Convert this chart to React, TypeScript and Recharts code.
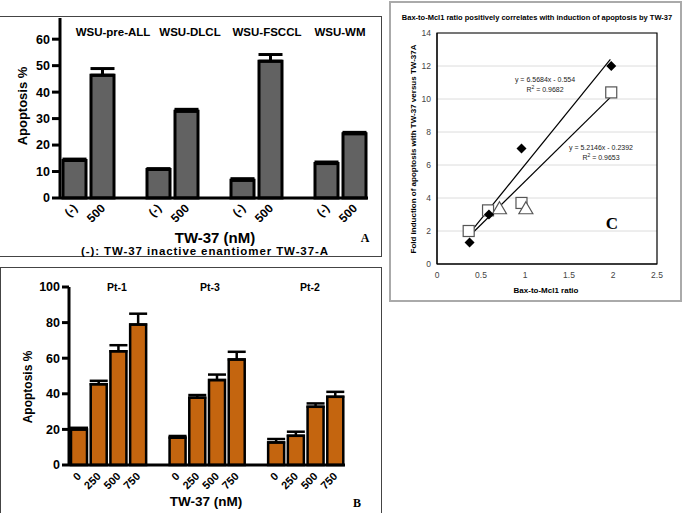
import React from 'react'
import {
  BarChart,
  Bar,
  XAxis,
  YAxis,
  ErrorBar,
  ScatterChart,
  Scatter,
  CartesianGrid,
  ReferenceArea,
} from 'recharts'

const SANS = '"Liberation Sans", Arial, sans-serif'
const SERIF = '"Liberation Serif", "Times New Roman", serif'

// panel A: cell lines, (-) = inactive enantiomer vs 500 nM TW-37
const cellLinesA = ['WSU-pre-ALL', 'WSU-DLCL', 'WSU-FSCCL', 'WSU-WM']
const dosesA = ['(-)', '500']
const apoptosisA = [14.2, 46.4, 10.8, 32.8, 6.7, 51.7, 13.0, 24.3]
const semA = [0.5, 2.5, 0.3, 0.7, 0.6, 2.5, 0.6, 0.5]
const ticksA = [0, 10, 20, 30, 40, 50, 60]

// panel B: patient samples
const patientsB = ['Pt-1', 'Pt-3', 'Pt-2']
const dosesB = ['0', '250', '500', '750']
const apoptosisB = [20.0, 45.4, 63.9, 78.9, 15.3, 37.8, 47.7, 59.3, 12.7, 16.4, 32.7, 38.3]
const semB = [0.9, 1.9, 3.4, 6.1, 1.0, 1.5, 3.1, 4.3, 1.9, 2.3, 1.9, 2.8]
const ticksB = [0, 20, 40, 60, 80, 100]

// panel C: Bax-to-Mcl1 ratio vs fold induction
const ratioDiamond = [0.37, 0.59, 0.96, 1.98]
const foldDiamond = [1.3, 3.0, 7.0, 12.0]
const ratioSquare = [0.36, 0.58, 0.96, 1.98]
const foldSquare = [2.0, 3.25, 3.7, 10.4]
const ratioTriangle = [0.71, 1.01]
const foldTriangle = [3.35, 3.35]
const trend1X = [0.36, 1.97]
const trend1Y = [1.8, 12.4]
const trend2X = [0.36, 1.97]
const trend2Y = [1.65, 10.1]
const ticksCX = [0, 0.5, 1, 1.5, 2, 2.5]
const ticksCY = [0, 2, 4, 6, 8, 10, 12, 14]

type Row = { key: string; label: string; v: number | null; e: number[] | null }

// groups of bars with one empty slot between groups
function grouped(groups: string[], doses: string[], vals: number[], errs: number[]) {
  const rows: Row[] = []
  groups.forEach((g, gi) => {
    if (gi > 0) rows.push({ key: `gap${gi}`, label: '', v: null, e: null })
    doses.forEach((d, di) => {
      const i = gi * doses.length + di
      rows.push({ key: `${g}-${d}`, label: d, v: vals[i], e: [0, errs[i]] })
    })
  })
  return rows
}

const pts = (xs: number[], ys: number[]) => xs.map((x, i) => ({ x, y: ys[i] }))

const rowsA = grouped(cellLinesA, dosesA, apoptosisA, semA)
const rowsB = grouped(patientsB, dosesB, apoptosisB, semB)

function Txt({ x, y, size, bold = true, family = SANS, rotate = 0, ls = 0, color = '#000', children }: any) {
  return (
    <div
      style={{
        position: 'absolute',
        left: x,
        top: y,
        transform: `translate(-50%, -50%) rotate(${rotate}deg)`,
        fontSize: size,
        fontWeight: bold ? 700 : 400,
        fontFamily: family,
        whiteSpace: 'nowrap',
        lineHeight: 1,
        letterSpacing: ls,
        color,
      }}
    >
      {children}
    </div>
  )
}

function rotTick(rows: Row[], size: number, dx: number, dy: number) {
  return (props: any) => {
    const row = rows[props.index]
    if (!row || !row.label) return <g />
    const x = props.x + dx
    const y = props.y + dy
    return (
      <text
        x={x}
        y={y}
        transform={`rotate(-45 ${x} ${y})`}
        textAnchor="end"
        fontSize={size}
        fontWeight={700}
        fontFamily={SANS}
        fill="#000"
      >
        {row.label}
      </text>
    )
  }
}

const diamond = (p: any) => (
  <polygon
    points={`${p.cx},${p.cy - 5} ${p.cx + 5},${p.cy} ${p.cx},${p.cy + 5} ${p.cx - 5},${p.cy}`}
    fill="#000"
  />
)
const square = (p: any) => (
  <rect x={p.cx - 5.5} y={p.cy - 5.5} width={11} height={11} fill="#fff" stroke="#555" strokeWidth={1.2} />
)
const triangle = (p: any) => (
  <polygon
    points={`${p.cx},${p.cy - 7} ${p.cx + 7},${p.cy + 5} ${p.cx - 7},${p.cy + 5}`}
    fill="#fff"
    stroke="#555"
    strokeWidth={1.2}
  />
)
const noDot = () => <g />

export default function App() {
  const thick = { stroke: '#000', strokeWidth: 3 }
  return (
    <div
      style={{
        position: 'absolute',
        left: 0,
        top: 0,
        width: 685,
        height: 513,
        background: '#fff',
        overflow: 'hidden',
        fontFamily: SANS,
      }}
    >
      {/* panel frames */}
      <div style={{ position: 'absolute', left: -2, top: 16, width: 384, height: 241, border: '1px solid #444', boxSizing: 'border-box' }} />
      <div style={{ position: 'absolute', left: 0, top: 267, width: 382, height: 260, border: '1px solid #444', boxSizing: 'border-box' }} />
      <div style={{ position: 'absolute', left: 389, top: 1, width: 293, height: 301, border: '2px solid #aaa', boxSizing: 'border-box' }} />

      {/* panel A */}
      <div style={{ position: 'absolute', left: 0, top: 0 }}>
        <BarChart width={385} height={260} data={rowsA} margin={{ top: 18, right: 17, left: 0, bottom: 0 }}>
          <XAxis
            dataKey="key"
            height={62}
            interval={0}
            axisLine={thick}
            tickLine={false}
            tick={rotTick(rowsA, 12, 4, 3)}
          />
          <YAxis
            type="number"
            domain={[0, 68]}
            ticks={ticksA}
            width={60}
            axisLine={thick}
            tickLine={thick}
            tickSize={8}
            tickMargin={2}
            tick={{ fill: '#000', fontSize: 12.5, fontWeight: 700, fontFamily: SANS }}
          />
          <Bar dataKey="v" fill="#626262" stroke="#000" strokeWidth={3} barSize={23} isAnimationActive={false}>
            <ErrorBar dataKey="e" width={12} strokeWidth={3} stroke="#000" direction="y" />
          </Bar>
        </BarChart>
      </div>
      <Txt x={113} y={33} size={11.5}>{cellLinesA[0]}</Txt>
      <Txt x={190} y={33} size={11.5}>{cellLinesA[1]}</Txt>
      <Txt x={267} y={33} size={11.5}>{cellLinesA[2]}</Txt>
      <Txt x={340} y={33} size={11.5}>{cellLinesA[3]}</Txt>
      <Txt x={22} y={106} size={13} rotate={-90}>Apoptosis %</Txt>
      <Txt x={215} y={237} size={15}>TW-37 (nM)</Txt>
      <Txt x={205} y={252} size={11.5} ls={0.9}>(-): TW-37 inactive enantiomer TW-37-A</Txt>
      <Txt x={365} y={238} size={12} family={SERIF}>A</Txt>

      {/* panel B */}
      <div style={{ position: 'absolute', left: 0, top: 268 }}>
        <BarChart width={382} height={245} data={rowsB} margin={{ top: 19, right: 37, left: 0, bottom: 0 }}>
          <XAxis
            dataKey="key"
            height={48}
            interval={0}
            axisLine={thick}
            tickLine={false}
            tick={rotTick(rowsB, 11, 3, 4)}
          />
          <YAxis
            type="number"
            domain={[0, 100]}
            ticks={ticksB}
            width={69}
            axisLine={thick}
            tickLine={thick}
            tickSize={7}
            tickMargin={2}
            tick={{ fill: '#000', fontSize: 12.5, fontWeight: 700, fontFamily: SANS }}
          />
          <Bar dataKey="v" fill="#c4650f" stroke="#000" strokeWidth={2.5} barSize={16} isAnimationActive={false}>
            <ErrorBar dataKey="e" width={9} strokeWidth={2.5} stroke="#000" direction="y" />
          </Bar>
        </BarChart>
      </div>
      <Txt x={117} y={287} size={10.5}>{patientsB[0]}</Txt>
      <Txt x={210} y={287} size={10.5}>{patientsB[1]}</Txt>
      <Txt x={310} y={287} size={10.5}>{patientsB[2]}</Txt>
      <Txt x={28} y={387} size={12} rotate={-90}>Apoptosis %</Txt>
      <Txt x={206} y={502} size={13.5}>TW-37 (nM)</Txt>
      <Txt x={357} y={503} size={12} family={SERIF}>B</Txt>

      {/* panel C */}
      <div style={{ position: 'absolute', left: 389, top: 1 }}>
        <ScatterChart width={292} height={300} margin={{ top: 32, right: 24, left: 0, bottom: 0 }}>
          <CartesianGrid horizontal vertical={false} stroke="#dcdcdc" />
          <XAxis
            type="number"
            dataKey="x"
            domain={[0, 2.5]}
            ticks={ticksCX}
            height={37}
            axisLine={{ stroke: '#000' }}
            tickLine={false}
            tickSize={0}
            tickMargin={8}
            tick={{ fill: '#444', fontSize: 8.5, fontFamily: SANS }}
          />
          <YAxis
            type="number"
            dataKey="y"
            domain={[0, 14]}
            ticks={ticksCY}
            width={48}
            axisLine={{ stroke: '#000' }}
            tickLine={false}
            tickSize={0}
            tickMargin={6}
            tick={{ fill: '#444', fontSize: 8.5, fontFamily: SANS }}
          />
          <ReferenceArea x1={0} x2={2.5} y1={0} y2={14} fill="none" stroke="#000" strokeWidth={1.2} ifOverflow="visible" />
          <Scatter data={pts(trend1X, trend1Y)} line={{ stroke: '#000', strokeWidth: 1.2 }} shape={noDot} isAnimationActive={false} />
          <Scatter data={pts(trend2X, trend2Y)} line={{ stroke: '#000', strokeWidth: 1.2 }} shape={noDot} isAnimationActive={false} />
          <Scatter data={pts(ratioSquare, foldSquare)} shape={square} isAnimationActive={false} />
          <Scatter data={pts(ratioTriangle, foldTriangle)} shape={triangle} isAnimationActive={false} />
          <Scatter data={pts(ratioDiamond, foldDiamond)} shape={diamond} isAnimationActive={false} />
        </ScatterChart>
      </div>
      <Txt x={537} y={18} size={7.5}>Bax-to-Mcl1 ratio positively correlates with induction of apoptosis by TW-37</Txt>
      <Txt x={414} y={149} size={8} rotate={-90}>Fold induction of apoptosis with TW-37 versus TW-37A</Txt>
      <Txt x={546} y={291} size={8}>Bax-to-Mcl1 ratio</Txt>
      <Txt x={545} y={79} size={7} bold={false} color="#222">y = 6.5684x - 0.554</Txt>
      <Txt x={545} y={89} size={7} bold={false} color="#222">
        R<sup style={{ fontSize: 5 }}>2</sup> = 0.9682
      </Txt>
      <Txt x={601} y={147} size={7} bold={false} color="#222">y = 5.2146x - 0.2392</Txt>
      <Txt x={601} y={157} size={7} bold={false} color="#222">
        R<sup style={{ fontSize: 5 }}>2</sup> = 0.9653
      </Txt>
      <Txt x={612} y={223} size={17} family={SERIF}>C</Txt>
    </div>
  )
}
